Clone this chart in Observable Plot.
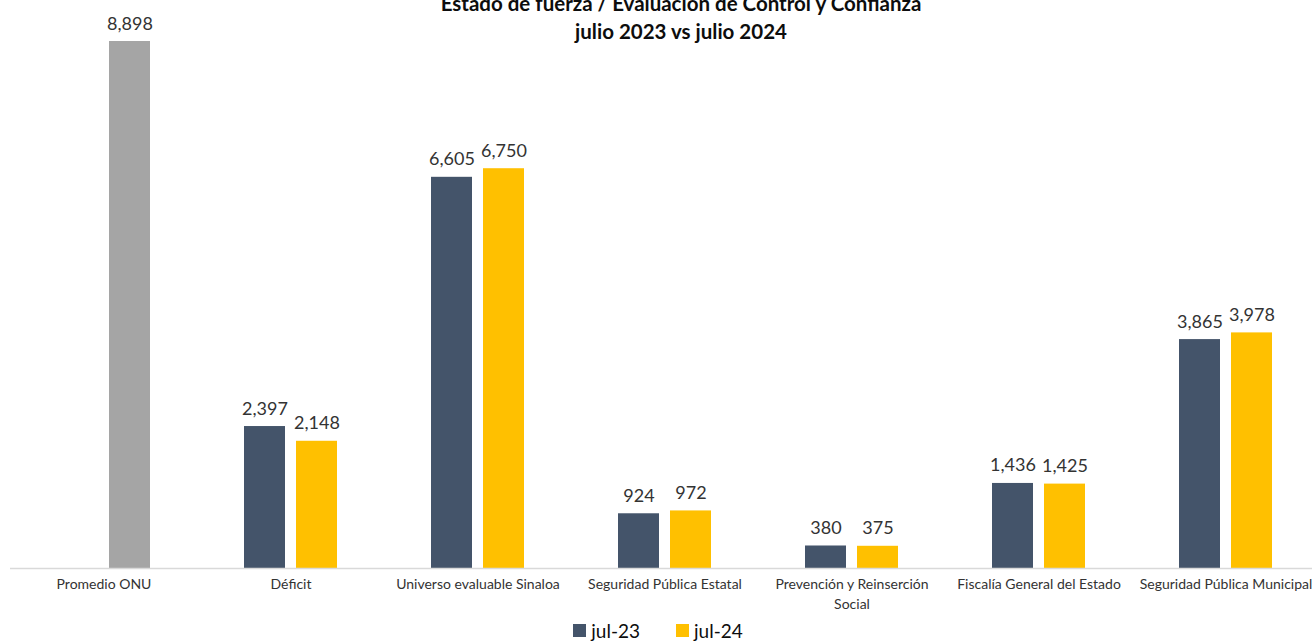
<!DOCTYPE html>
<html><head><meta charset="utf-8">
<script src="https://cdn.jsdelivr.net/npm/d3@7"></script>
<script src="https://cdn.jsdelivr.net/npm/@observablehq/plot@0.6"></script>
<style>
html,body{margin:0;padding:0;background:#fff;overflow:hidden;}
#wrap{position:relative;width:1312px;height:641px;font-family:Lato,"Open Sans",sans-serif;}
#title{position:absolute;left:0;width:1362px;top:-11px;text-align:center;font-weight:bold;font-size:20.5px;line-height:28px;color:#0d0d0d;z-index:2;}
#legend{position:absolute;top:619px;left:0;width:1312px;display:flex;justify-content:center;font-size:19px;color:#0d0d0d;z-index:2;padding-left:4px;box-sizing:border-box;}
#legend span{display:flex;align-items:center;}
#legend span:first-child{margin-right:36px;}
#legend i{display:inline-block;width:13px;height:13px;margin-right:5px;}
</style></head>
<body><div id="wrap">
<div id="title">Estado de fuerza / Evaluación de Control y Confianza<br>julio 2023 vs julio 2024</div>
<div id="chart"></div>
<div id="legend"></div>
</div>
<script>
const categories = ["Promedio ONU","Déficit","Universo evaluable Sinaloa","Seguridad Pública Estatal","Prevención y Reinserción Social","Fiscalía General del Estado","Seguridad Pública Municipal"];
const tickLabels = ["Promedio ONU","Déficit","Universo evaluable Sinaloa","Seguridad Pública Estatal","Prevención y Reinserción\nSocial","Fiscalía General del Estado","Seguridad Pública Municipal"];
const seriesNames = ["jul-23","jul-24","Promedio ONU"];
const seriesColors = ["#44546a","#ffc000","#a5a5a5"];
const slots = ["jul-23","jul-24"];
const jul23 = [null,2397,6605,924,380,1436,3865];
const jul24 = [null,2148,6750,972,375,1425,3978];
const promedioONU = [8898,null,null,null,null,null,null];

const rows = [];
categories.forEach((c,i)=>{
  if (jul23[i]!=null) rows.push({cat:c, serie:"jul-23", slot:"jul-23", value:jul23[i]});
  if (jul24[i]!=null) rows.push({cat:c, serie:"jul-24", slot:"jul-24", value:jul24[i]});
  if (promedioONU[i]!=null) rows.push({cat:c, serie:"Promedio ONU", slot:"jul-24", value:promedioONU[i]});
});
const labelOf = new Map(categories.map((c,i)=>[c,tickLabels[i]]));

const chart = Plot.plot({
  width:1312, height:641,
  marginTop:41, marginBottom:73, marginLeft:10, marginRight:0,
  style:{fontFamily:"Lato, 'Open Sans', sans-serif", background:"#fff"},
  fx:{domain:categories, range:[10,1319], padding:0, label:null},
  x:{domain:slots, paddingInner:0.2075, paddingOuter:0.868, axis:null},
  y:{domain:[0,8898], axis:null},
  color:{domain:seriesNames, range:seriesColors},
  marks:[
    Plot.barY(rows,{fx:"cat", x:"slot", y:"value", fill:"serie"}),
    Plot.text(rows,{fx:"cat", x:"slot", y:"value", text:d=>d3.format(",")(d.value), lineAnchor:"bottom", dy:-12, fontSize:18, fill:"#333333"}),
    Plot.ruleY([0],{stroke:"#d9d9d9", strokeWidth:1.5}),
    Plot.axisFx({anchor:"bottom", tickSize:0, tickPadding:7, fontSize:14, fill:"#333333", lineHeight:1.4, tickFormat:d=>labelOf.get(d), label:null})
  ]
});
document.getElementById("chart").appendChild(chart);

const lg = document.getElementById("legend");
slots.forEach((s)=>{
  const sp = document.createElement("span");
  const sw = document.createElement("i");
  sw.style.background = seriesColors[seriesNames.indexOf(s)];
  sp.appendChild(sw);
  sp.appendChild(document.createTextNode(s));
  lg.appendChild(sp);
});
</script>
</body></html>
